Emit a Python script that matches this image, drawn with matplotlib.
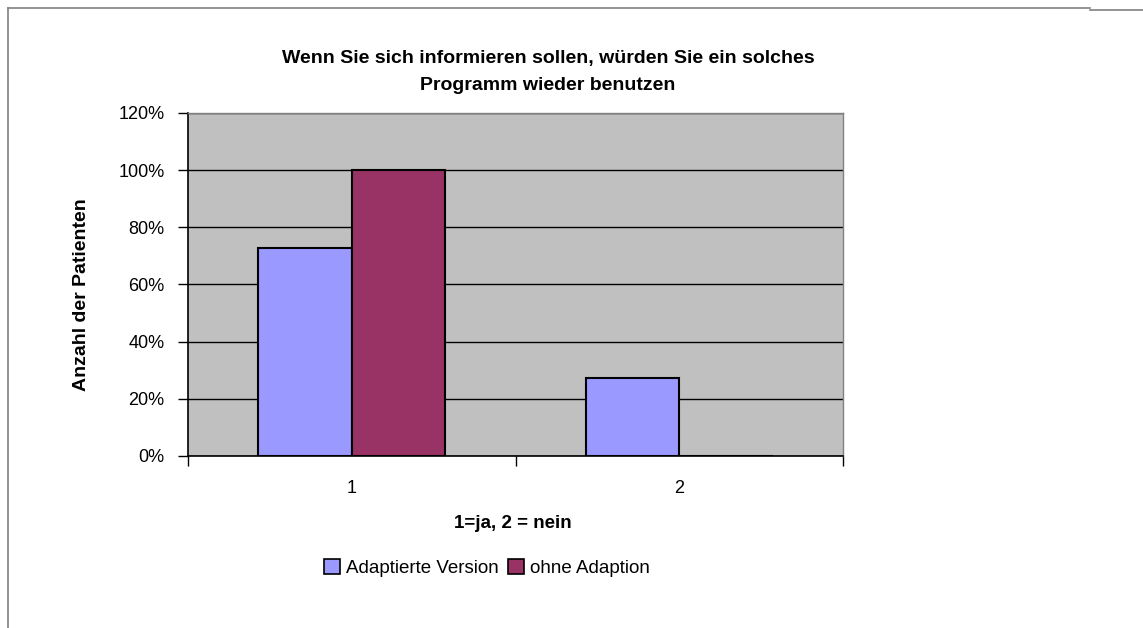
import matplotlib.pyplot as plt
from matplotlib.lines import Line2D
from matplotlib.patches import Patch
from matplotlib.ticker import FixedLocator, PercentFormatter

plt.rcParams['font.family'] = ['Liberation Sans', 'DejaVu Sans']

categories = ["1", "2"]
series_names = ["Adaptierte Version", "ohne Adaption"]
adaptiert = [72.7, 27.3]
ohne = [100.0, 0.0]
colors = ["#9999FF", "#993366"]

W, H = 1143, 628
fig = plt.figure(figsize=(W / 100, H / 100), dpi=100)
ax = fig.add_axes([188 / W, 1 - 456 / H, (843 - 188) / W, (456 - 113) / H])
ax.set_facecolor("#C0C0C0")

x = list(range(len(categories)))
bw = 1 / 3.5
ax.bar([i - bw / 2 for i in x], adaptiert, width=bw, color=colors[0],
       edgecolor="black", linewidth=1.5, zorder=3)
ax.bar([i + bw / 2 for i in x], ohne, width=bw, color=colors[1],
       edgecolor="black", linewidth=1.5, zorder=3)

ax.set_xlim(-0.5, len(categories) - 0.5)
ax.set_ylim(0, 120)
ax.yaxis.set_major_locator(FixedLocator([0, 20, 40, 60, 80, 100, 120]))
ax.yaxis.set_major_formatter(PercentFormatter(decimals=0))
ax.yaxis.grid(True, color="black", linewidth=1, zorder=1)

ax.set_xticks([-0.5, 0.5, 1.5])
ax.set_xticklabels([])
ax.set_xticks(x, minor=True)
ax.set_xticklabels(categories, minor=True)
ax.tick_params(axis="x", which="minor", length=0, pad=17, labelsize=13)
ax.tick_params(axis="x", which="major", length=7, width=1, color="black")
ax.tick_params(axis="y", length=7, width=1, labelsize=13, pad=10)

for side in ("top", "right"):
    ax.spines[side].set_color("#808080")
    ax.spines[side].set_linewidth(1)
for side in ("left", "bottom"):
    ax.spines[side].set_color("black")
    ax.spines[side].set_linewidth(1.2)

fig.text(548 / W, 1 - 72 / H,
         "Wenn Sie sich informieren sollen, würden Sie ein solches\nProgramm wieder benutzen",
         ha="center", va="center", fontsize=14, fontweight="bold", linespacing=1.75)
fig.text(82 / W, 1 - 295 / H, "Anzahl der Patienten", rotation=90,
         ha="center", va="center", fontsize=14, fontweight="bold")
fig.text(513 / W, 1 - 523 / H, "1=ja, 2 = nein", ha="center", va="center",
         fontsize=13.5, fontweight="bold")

handles = [Patch(facecolor=c, edgecolor="black", linewidth=1.2) for c in colors]
fig.legend(handles, series_names, loc="center", bbox_to_anchor=(487 / W, 1 - 568 / H),
           ncol=2, frameon=False, fontsize=13.5, handlelength=0.85, handleheight=0.8,
           handletextpad=0.3, columnspacing=0.5)

# outer chart border
fig.add_artist(Line2D([8 / W, 1090 / W], [1 - 8 / H, 1 - 8 / H], color="#808080", linewidth=1.2))
fig.add_artist(Line2D([1090 / W, 1], [1 - 9.5 / H, 1 - 9.5 / H], color="#808080", linewidth=1.2))
fig.add_artist(Line2D([8 / W, 8 / W], [0, 1 - 8 / H], color="#808080", linewidth=1.2))

fig.savefig("out.png", dpi=100)
